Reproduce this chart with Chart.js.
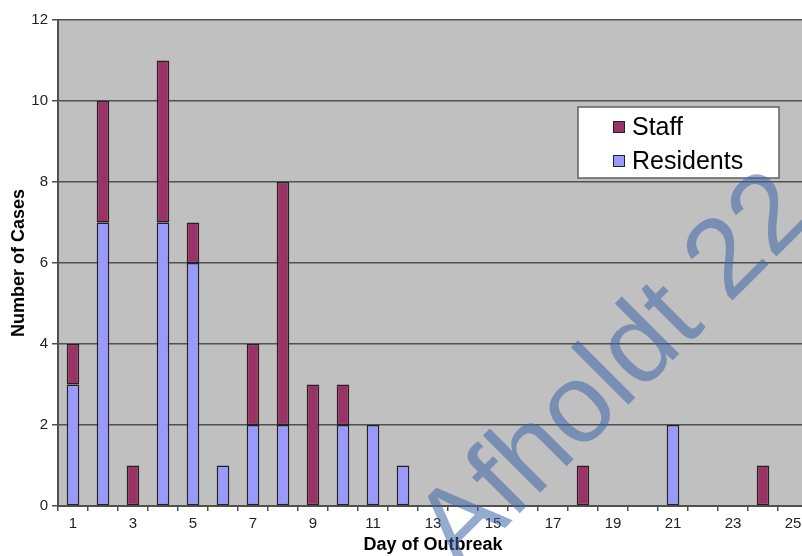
<!DOCTYPE html>
<html lang="en">
<head>
    <meta charset="UTF-8">
    <title>Day of Outbreak</title>
    <style>
        html, body {
            margin: 0;
            padding: 0;
            background: #ffffff;
            overflow: hidden;
        }
        #chartContainer {
            position: relative;
            width: 810px;
            height: 556px;
        }
    </style>
</head>
<body>
    <div id="chartContainer">
        <canvas id="outbreakChart" width="810" height="556"></canvas>
    </div>

    <script src="https://cdn.jsdelivr.net/npm/chart.js"></script>
    <script>
        // Data
        const days = Array.from({ length: 25 }, (_, i) => String(i + 1));
        const residents = [3, 7, 0, 7, 6, 1, 2, 2, 0, 2, 2, 1, 0, 0, 0, 0, 0, 0, 0, 0, 2, 0, 0, 0, 0];
        const staff     = [1, 3, 1, 4, 1, 0, 2, 6, 3, 1, 0, 0, 0, 0, 0, 0, 0, 1, 0, 0, 0, 0, 0, 1, 0];
        const yTicks = [0, 2, 4, 6, 8, 10, 12];

        const staffColor = '#993366';
        const residentsColor = '#9999ff';
        const lineColor = '#505050';
        const fontFamily = '"Liberation Sans", Arial, sans-serif';

        // grey plot background
        const plotBackground = {
            id: 'plotBackground',
            beforeDraw(chart) {
                const { ctx, chartArea: a } = chart;
                ctx.save();
                ctx.fillStyle = '#c0c0c0';
                ctx.fillRect(a.left, a.top, a.right - a.left, a.bottom - a.top);
                ctx.restore();
            }
        };

        // legend box inside the plot, Staff listed first
        const boxLegend = {
            id: 'boxLegend',
            afterDatasetsDraw(chart) {
                const ctx = chart.ctx;
                ctx.save();
                ctx.fillStyle = '#ffffff';
                ctx.strokeStyle = '#606060';
                ctx.lineWidth = 1.5;
                ctx.fillRect(578, 107, 201, 71);
                ctx.strokeRect(578, 107, 201, 71);
                const items = [
                    { text: 'Staff', color: staffColor, y: 127 },
                    { text: 'Residents', color: residentsColor, y: 161 }
                ];
                ctx.font = '25px ' + fontFamily;
                ctx.textBaseline = 'middle';
                items.forEach(it => {
                    ctx.fillStyle = it.color;
                    ctx.fillRect(613, it.y - 6, 12, 12);
                    ctx.strokeStyle = '#222';
                    ctx.lineWidth = 1;
                    ctx.strokeRect(613.5, it.y - 5.5, 11, 11);
                    ctx.fillStyle = '#000';
                    ctx.fillText(it.text, 632, it.y + 1);
                });
                ctx.restore();
            }
        };

        // watermark across the picture
        const watermark = {
            id: 'watermark',
            afterDraw(chart) {
                const ctx = chart.ctx;
                ctx.save();
                ctx.translate(460, 573);
                ctx.rotate(-45 * Math.PI / 180);
                ctx.font = '112px ' + fontFamily;
                ctx.fillStyle = 'rgba(60, 100, 165, 0.55)';
                ctx.textBaseline = 'alphabetic';
                ctx.fillText('Afholdt 22', 0, 0);
                ctx.restore();
            }
        };

        const ctx = document.getElementById('outbreakChart').getContext('2d');
        const chart = new Chart(ctx, {
            type: 'bar',
            data: {
                labels: days,
                datasets: [
                    {
                        label: 'Residents',
                        data: residents,
                        backgroundColor: residentsColor,
                        borderColor: '#222222',
                        borderWidth: 1.5,
                        borderSkipped: false
                    },
                    {
                        label: 'Staff',
                        data: staff,
                        backgroundColor: staffColor,
                        borderColor: '#222222',
                        borderWidth: 1.5,
                        borderSkipped: false
                    }
                ]
            },
            options: {
                responsive: false,
                animation: false,
                layout: {
                    padding: { top: 20, right: 2, left: 0, bottom: 0 }
                },
                datasets: {
                    bar: {
                        categoryPercentage: 1,
                        barPercentage: 0.42
                    }
                },
                scales: {
                    x: {
                        stacked: true,
                        grid: {
                            display: true,
                            drawOnChartArea: false,
                            drawTicks: true,
                            tickLength: 5,
                            color: lineColor,
                            lineWidth: 1.5
                        },
                        border: { display: true, color: lineColor, width: 2 },
                        ticks: {
                            autoSkip: false,
                            maxRotation: 0,
                            padding: 4,
                            color: '#222',
                            font: { family: fontFamily, size: 15 },
                            callback: function (value, index) {
                                return index % 2 === 0 ? days[index] : '';
                            }
                        },
                        title: {
                            display: true,
                            text: 'Day of Outbreak',
                            color: '#000',
                            font: { family: fontFamily, size: 18, weight: 'bold' },
                            padding: { top: 0, bottom: 0 }
                        },
                        afterFit(scale) { scale.height = 50; }
                    },
                    y: {
                        stacked: true,
                        min: 0,
                        max: 12,
                        afterBuildTicks(scale) {
                            scale.ticks = yTicks.map(v => ({ value: v }));
                        },
                        grid: {
                            color: lineColor,
                            lineWidth: 1.5,
                            tickLength: 6
                        },
                        border: { display: true, color: lineColor, width: 2 },
                        ticks: {
                            padding: 4,
                            color: '#222',
                            font: { family: fontFamily, size: 15 }
                        },
                        title: {
                            display: true,
                            text: 'Number of Cases',
                            color: '#000',
                            font: { family: fontFamily, size: 18, weight: 'bold' },
                            padding: { top: 8, bottom: 0 }
                        },
                        afterFit(scale) { scale.width = 58; }
                    }
                },
                plugins: {
                    legend: { display: false },
                    tooltip: { enabled: false }
                }
            },
            plugins: [plotBackground, boxLegend, watermark]
        });
    </script>
</body>
</html>
